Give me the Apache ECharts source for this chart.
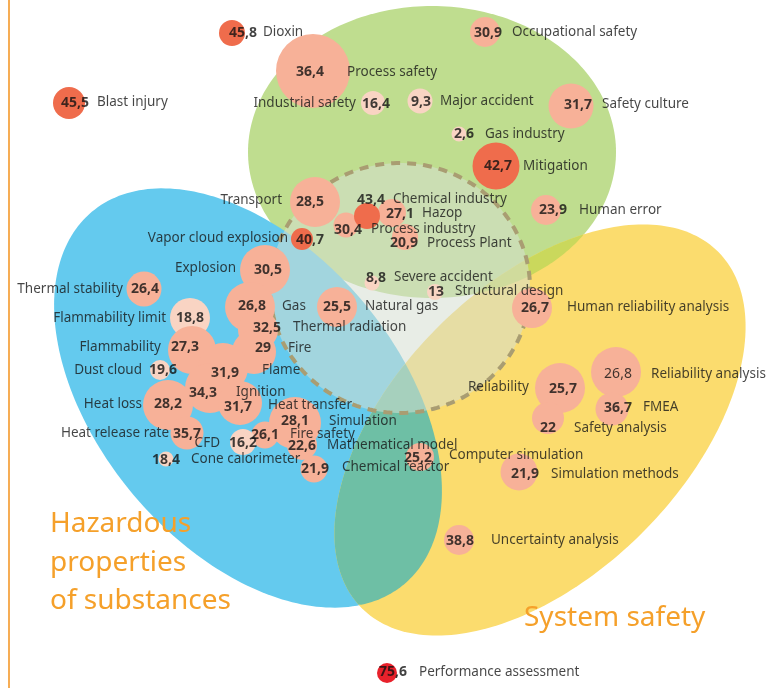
<!DOCTYPE html>
<html>
<head>
<meta charset="utf-8">
<title>Safety research topics</title>
<script src="https://cdn.jsdelivr.net/npm/echarts@6/dist/echarts.min.js"></script>
<style>
  html, body { margin: 0; padding: 0; background: #fff; }
  #chart { width: 777px; height: 688px; }
</style>
</head>
<body>
<div id="chart"></div>
<script>
// topics and their scores
const topics = [
  'Dioxin', 'Blast injury', 'Process safety', 'Occupational safety', 'Industrial safety',
  'Major accident', 'Safety culture', 'Gas industry', 'Mitigation', 'Human error',
  'Transport', 'Hazop', 'Process industry', 'Chemical industry', 'Process Plant',
  'Vapor cloud explosion', 'Severe accident', 'Structural design', 'Natural gas', 'Explosion',
  'Gas', 'Thermal radiation', 'Fire', 'Thermal stability', 'Flammability limit',
  'Flammability', 'Flame', 'Dust cloud', 'Ignition', 'Heat loss',
  'Heat transfer', 'Heat release rate', 'Simulation', 'Mathematical model', 'Fire safety',
  'CFD', 'Cone calorimeter', 'Chemical reactor', 'Computer simulation', 'Human reliability analysis',
  'Reliability analysis', 'Reliability', 'Safety analysis', 'FMEA', 'Simulation methods',
  'Uncertainty analysis', 'Performance assessment'
]
const scores = [
  45.8, 45.5, 36.4, 30.9, 16.4,
  9.3, 31.7, 2.6, 42.7, 23.9,
  28.5, 27.1, 30.4, 43.4, 20.9,
  40.7, 8.8, 13, 25.5, 30.5,
  26.8, 32.5, 29, 26.4, 18.8,
  27.3, 31.9, 19.6, 34.3, 28.2,
  31.7, 35.7, 28.1, 22.6, 26.1,
  16.2, 18.4, 21.9, 25.2, 26.7,
  26.8, 25.7, 22, 36.7, 21.9,
  38.8, 75.6
]

// placement on the 777 x 688 canvas: bubble x, y, diameter, value label x, y, name x, y, side
const bubbleLayout = [
  [232, 33, 26, 243, 33, 263, 32, 'r'],
  [69, 103, 32, 75, 103, 97, 102, 'r'],
  [313, 71, 74, 310, 72, 347, 72, 'r'],
  [485, 32, 30, 488, 33, 512, 32, 'r'],
  [373, 103, 24, 376, 104, 356, 103, 'l'],
  [420, 101, 25, 421, 102, 440, 101, 'r'],
  [571, 106, 45, 578, 105, 602, 104, 'r'],
  [459, 134, 15, 464, 134, 485, 134, 'r'],
  [496, 166, 47, 498, 166, 523, 166, 'r'],
  [546, 210, 30, 553, 210, 579, 210, 'r'],
  [315, 202, 50, 310, 202, 282, 200, 'l'],
  [392, 213, 28, 400, 214, 422, 213, 'r'],
  [346, 225, 25, 348, 230, 371, 229, 'r'],
  [367, 216, 26, 371, 200, 393, 199, 'r'],
  [405, 237, 26, 404, 243, 427, 243, 'r'],
  [302, 239, 22, 310, 240, 288, 238, 'l'],
  [372, 283, 15, 376, 278, 394, 277, 'r'],
  [435, 292, 16, 436, 292, 455, 291, 'r'],
  [337, 307, 40, 337, 307, 365, 306, 'r'],
  [265, 270, 50, 268, 270, 236, 268, 'l'],
  [250, 307, 50, 252, 306, 282, 306, 'r'],
  [258, 330, 40, 267, 328, 293, 327, 'r'],
  [254, 352, 44, 263, 348, 288, 348, 'r'],
  [144, 289, 35, 145, 289, 123, 289, 'l'],
  [190, 318, 40, 190, 318, 166, 318, 'l'],
  [192, 350, 48, 185, 347, 161, 347, 'l'],
  [223, 368, 50, 225, 373, 262, 370, 'r'],
  [160, 370, 20, 163, 370, 142, 370, 'l'],
  [210, 388, 50, 203, 393, 236, 392, 'r'],
  [168, 405, 50, 168, 404, 142, 404, 'l'],
  [240, 403, 44, 238, 407, 268, 405, 'r'],
  [187, 433, 33, 187, 434, 169, 433, 'l'],
  [295, 423, 52, 295, 421, 329, 421, 'r'],
  [302, 445, 30, 302, 446, 327, 445, 'r'],
  [265, 435, 27, 265, 435, 290, 434, 'r'],
  [243, 442, 26, 243, 443, 220, 443, 'l'],
  [166, 459, 15, 166, 460, 191, 459, 'r'],
  [314, 469, 27, 315, 469, 342, 467, 'r'],
  [420, 457, 28, 418, 458, 449, 455, 'r'],
  [532, 308, 40, 535, 308, 567, 307, 'r'],
  [616, 372, 50, 618, 374, 651, 374, 'r'],
  [560, 388, 50, 563, 389, 529, 387, 'l'],
  [548, 418, 32, 548, 428, 574, 428, 'r'],
  [612, 409, 33, 618, 408, 643, 407, 'r'],
  [519, 472, 37, 525, 474, 551, 474, 'r'],
  [459, 540, 30, 460, 541, 491, 540, 'r'],
  [387, 673, 20, 393, 672, 419, 672, 'r']
]
const lightValues = ['Reliability analysis']

// background fields: centre x, y, radius x, y, tilt (deg), colour
const fieldLayout = [
  [432, 152, 184, 146, 0, '#bfdd8f'],
  [248, 398, 243, 150, 50, '#64caee'],
  [540, 430, 252, 145, -45, '#fbdc6e']
]
const coreLayout = [400, 288, 130, 125]

const chart = echarts.init(document.getElementById('chart'))
const FONT = '"Noto Sans", "Open Sans", sans-serif'

function ellipsePts(e, n) {
  const t = e[4] * Math.PI / 180
  const pts = []
  for (let k = 0; k < n; k++) {
    const a = 2 * Math.PI * k / n
    const x = e[2] * Math.cos(a)
    const y = e[3] * Math.sin(a)
    pts.push([e[0] + x * Math.cos(t) - y * Math.sin(t), e[1] + x * Math.sin(t) + y * Math.cos(t)])
  }
  return pts
}

function inside(p, e) {
  const t = e[4] * Math.PI / 180
  const dx = p[0] - e[0]
  const dy = p[1] - e[1]
  const u = dx * Math.cos(t) + dy * Math.sin(t)
  const v = -dx * Math.sin(t) + dy * Math.cos(t)
  return (u / e[2]) ** 2 + (v / e[3]) ** 2 <= 1
}

function overlap(a, b) {
  const pts = ellipsePts(a, 360).filter(p => inside(p, b))
    .concat(ellipsePts(b, 360).filter(p => inside(p, a)))
  const cx = pts.reduce((s, p) => s + p[0], 0) / pts.length
  const cy = pts.reduce((s, p) => s + p[1], 0) / pts.length
  return pts.sort((p, q) => Math.atan2(p[1] - cy, p[0] - cx) - Math.atan2(q[1] - cy, q[0] - cx))
}

const core = coreLayout.concat([0])
const shapes = [
  { pts: ellipsePts(fieldLayout[0], 240), style: { fill: fieldLayout[0][5] } },
  { pts: ellipsePts(fieldLayout[1], 240), style: { fill: fieldLayout[1][5] } },
  { pts: ellipsePts(fieldLayout[2], 240), style: { fill: fieldLayout[2][5] } },
  { pts: overlap(fieldLayout[1], fieldLayout[2]), style: { fill: '#6ebfa5' } },
  { pts: overlap(fieldLayout[0], fieldLayout[2]), style: { fill: '#cad85c' } },
  {
    pts: ellipsePts(core, 240),
    style: { fill: 'rgba(214,222,210,0.55)', stroke: '#a99d72', lineWidth: 4, lineDash: [9, 7] }
  }
]

function fmt(v) {
  return String(v).replace('.', ',')
}

const bubbleData = bubbleLayout.map((b, i) => [b[0], b[1], b[2], scores[i]])
const valueData = bubbleLayout.map((b, i) => ({
  value: [b[3], b[4], scores[i]],
  label: lightValues.includes(topics[i]) ? { fontWeight: 'normal' } : undefined
}))
const nameData = bubbleLayout.map((b, i) => ({
  value: [b[5], b[6]],
  name: topics[i],
  label: { align: b[7] === 'l' ? 'right' : 'left' }
}))

const option = {
  animation: false,
  grid: { left: 0, right: 0, top: 0, bottom: 0 },
  xAxis: { type: 'value', min: 0, max: 777, show: false },
  yAxis: { type: 'value', min: 0, max: 688, inverse: true, show: false },
  visualMap: {
    type: 'piecewise',
    show: false,
    seriesIndex: 1,
    dimension: 3,
    pieces: [
      { lt: 20, color: '#f9d4c3' },
      { gte: 20, lt: 40, color: '#f7b198' },
      { gte: 40, lt: 60, color: '#ef6c4c' },
      { gte: 60, color: '#e8212b' }
    ]
  },
  series: [
    {
      type: 'custom',
      silent: true,
      clip: false,
      data: shapes.map((s, i) => [i, i]),
      renderItem: function (params, api) {
        const s = shapes[params.dataIndex]
        return {
          type: 'polygon',
          shape: { points: s.pts.map(p => api.coord(p)) },
          style: s.style
        }
      }
    },
    {
      type: 'scatter',
      silent: true,
      data: bubbleData,
      symbolSize: val => val[2],
      itemStyle: { opacity: 1 }
    },
    {
      type: 'scatter',
      silent: true,
      symbolSize: 0,
      data: valueData,
      label: {
        show: true,
        position: 'inside',
        formatter: p => fmt(p.value[2]),
        fontFamily: FONT,
        fontSize: 14,
        fontWeight: 'bold',
        color: '#111'
      }
    },
    {
      type: 'scatter',
      silent: true,
      symbolSize: 0,
      data: nameData,
      label: {
        show: true,
        position: 'inside',
        verticalAlign: 'middle',
        formatter: p => p.name,
        fontFamily: FONT,
        fontSize: 13.5,
        color: '#161616'
      }
    }
  ],
  graphic: [
    {
      type: 'line',
      silent: true,
      z: 10,
      shape: { x1: 9, y1: 0, x2: 9, y2: 688 },
      style: { stroke: '#f6ad55', lineWidth: 2 }
    },
    {
      type: 'text',
      left: 50,
      top: 505,
      z: 10,
      silent: true,
      style: {
        text: 'Hazardous\nproperties\nof substances',
        font: '28px ' + FONT,
        lineHeight: 38.5,
        fill: '#f5a02a'
      }
    },
    {
      type: 'text',
      left: 524,
      top: 604,
      z: 10,
      silent: true,
      style: { text: 'System safety', font: '28px ' + FONT, fill: '#f5a02a' }
    }
  ]
}

chart.setOption(option)
window.addEventListener('resize', () => chart.resize())
</script>
</body>
</html>
